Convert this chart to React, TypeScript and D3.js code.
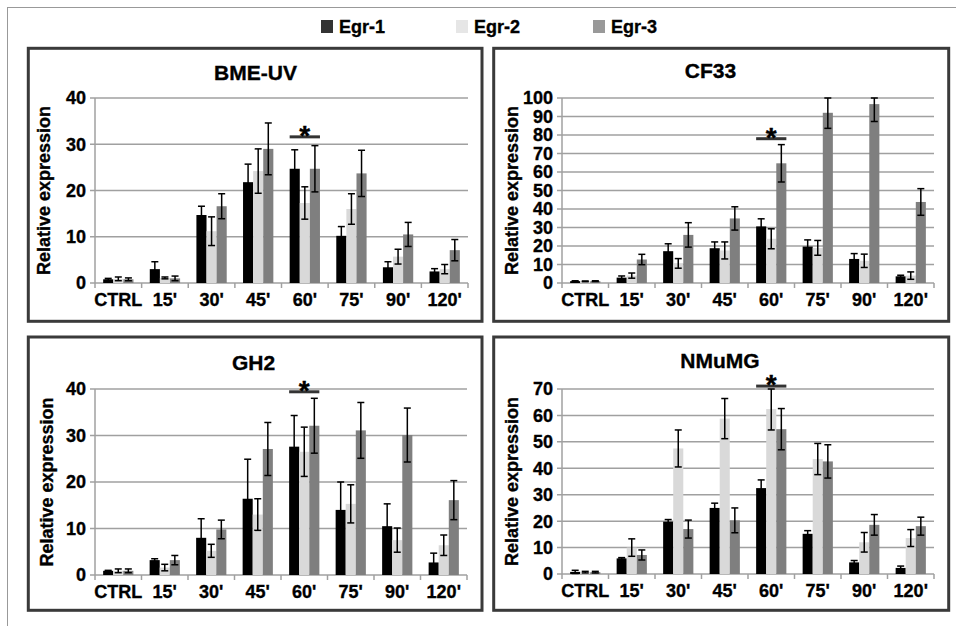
import React from "react";
import * as d3 from "d3";

const categories = ["CTRL", "15'", "30'", "45'", "60'", "75'", "90'", "120'"];
const series = ["Egr-1", "Egr-2", "Egr-3"];
const seriesColors = ["#000000", "#d9d9d9", "#7f7f7f"];
const legendColors = ["#333333", "#e6e6e6", "#999999"];

// BME-UV
const bmeEgr1 = [0.8, 3.0, 14.7, 21.8, 24.7, 10.2, 3.4, 2.5];
const bmeEgr1Err = [0.2, 1.6, 1.9, 3.9, 4.1, 2.0, 1.2, 0.6];
const bmeEgr2 = [0.9, 1.1, 11.2, 24.2, 17.3, 16.0, 5.7, 3.0];
const bmeEgr2Err = [0.4, 0.2, 3.1, 4.8, 3.5, 3.3, 1.6, 1.0];
const bmeEgr3 = [0.8, 1.0, 16.6, 29.0, 24.7, 23.7, 10.5, 7.1];
const bmeEgr3Err = [0.3, 0.5, 2.7, 5.6, 5.0, 5.0, 2.6, 2.3];

// CF33
const cfEgr1 = [1.0, 2.9, 17.2, 18.8, 30.6, 19.7, 13.0, 3.6];
const cfEgr1Err = [0.2, 0.9, 4.0, 3.4, 4.1, 3.6, 2.9, 0.6];
const cfEgr2 = [0.9, 4.0, 10.6, 17.6, 23.9, 19.0, 12.0, 4.0];
const cfEgr2Err = [0.2, 1.4, 2.6, 4.6, 5.4, 4.0, 3.6, 2.0];
const cfEgr3 = [1.0, 12.7, 26.0, 34.9, 64.7, 92.0, 96.7, 43.8];
const cfEgr3Err = [0.2, 2.8, 6.6, 6.3, 10.1, 8.4, 9.4, 7.2];

// GH2
const ghEgr1 = [0.9, 3.2, 8.0, 16.4, 27.6, 14.0, 10.5, 2.7];
const ghEgr1Err = [0.1, 0.3, 4.1, 8.5, 6.7, 6.0, 4.8, 2.0];
const ghEgr2 = [0.9, 1.6, 5.2, 13.0, 26.5, 15.3, 7.5, 6.4];
const ghEgr2Err = [0.4, 0.7, 1.4, 3.4, 5.3, 4.1, 2.6, 2.2];
const ghEgr3 = [0.9, 3.2, 9.8, 27.1, 32.1, 31.1, 30.1, 16.1];
const ghEgr3Err = [0.4, 1.0, 2.0, 5.7, 5.9, 6.0, 5.8, 4.2];

// NMuMG
const nmEgr1 = [0.8, 5.9, 19.8, 25.0, 32.5, 15.2, 4.4, 2.3];
const nmEgr1Err = [0.6, 0.3, 0.8, 1.8, 3.1, 1.2, 0.7, 0.7];
const nmEgr2 = [0.7, 10.0, 47.5, 58.8, 62.4, 43.5, 12.0, 13.6];
const nmEgr2Err = [0.3, 3.3, 7.0, 7.6, 7.9, 5.9, 3.7, 3.2];
const nmEgr3 = [0.7, 7.2, 17.0, 20.3, 54.8, 42.6, 18.6, 18.1];
const nmEgr3Err = [0.3, 1.9, 3.4, 4.7, 7.8, 6.3, 3.9, 3.4];

const panelTitles = ["BME-UV", "CF33", "GH2", "NMuMG"];
const panelYMax = [40, 100, 40, 70];
const starCategory = "60'";
const starLevels = [31.6, 78, 39.4, 71.1];
const yLabel = "Relative expression";

const panelValues = [
  [bmeEgr1, bmeEgr2, bmeEgr3],
  [cfEgr1, cfEgr2, cfEgr3],
  [ghEgr1, ghEgr2, ghEgr3],
  [nmEgr1, nmEgr2, nmEgr3],
];
const panelErrors = [
  [bmeEgr1Err, bmeEgr2Err, bmeEgr3Err],
  [cfEgr1Err, cfEgr2Err, cfEgr3Err],
  [ghEgr1Err, ghEgr2Err, ghEgr3Err],
  [nmEgr1Err, nmEgr2Err, nmEgr3Err],
];

// layout
const layouts = [
  { box: [28.3, 48.3, 453.7, 273], plot: [95, 468, 98, 283], title: [255.5, 80], ylab: 50 },
  { box: [493.7, 48.3, 455, 273], plot: [562, 934, 98, 283], title: [710.5, 78], ylab: 518 },
  { box: [28.3, 337, 453.7, 273.3], plot: [95, 467, 389, 575], title: [253.5, 370], ylab: 53 },
  { box: [493.7, 337, 455, 273.3], plot: [562, 934, 389, 574], title: [720, 368], ylab: 518 },
];

const FONT = "'Liberation Sans', Arial, sans-serif";
const textStyle = {
  fontFamily: FONT,
  fontWeight: "bold" as const,
  stroke: "#000",
  strokeWidth: 0.35,
  fill: "#000",
};

function Panel({ idx }: { idx: number }) {
  const L = layouts[idx];
  const [left, right, top, bottom] = L.plot;
  const yMax = panelYMax[idx];
  const y = d3.scaleLinear().domain([0, yMax]).range([bottom, top]);
  const x0 = d3
    .scaleBand<string>()
    .domain(categories)
    .range([left, right])
    .paddingInner(0.35)
    .paddingOuter(0.175);
  const x1 = d3.scaleBand<string>().domain(series).range([0, x0.bandwidth()]);
  const ticks = d3.range(0, yMax + 1, 10);
  const step = x0.step();
  const boundaries = d3.range(0, categories.length + 1).map((i) => left + i * step);
  const sx = x0(starCategory)!;
  const sy = y(starLevels[idx]);
  const grid = "#a0a0a0";

  return (
    <g>
      <rect
        x={L.box[0]}
        y={L.box[1]}
        width={L.box[2]}
        height={L.box[3]}
        fill="#fff"
        stroke="#3a3a3a"
        strokeWidth={3}
      />
      <text x={L.title[0]} y={L.title[1]} textAnchor="middle" style={textStyle} fontSize={21}>
        {panelTitles[idx]}
      </text>
      <text
        transform={`translate(${L.ylab},${(top + bottom) / 2}) rotate(-90)`}
        textAnchor="middle"
        style={textStyle}
        fontSize={18}
      >
        {yLabel}
      </text>
      {ticks.map((t) => (
        <g key={t}>
          <line x1={left - 5} x2={right} y1={y(t)} y2={y(t)} stroke={grid} strokeWidth={1.5} />
          <text x={left - 9} y={y(t)} dy="0.36em" textAnchor="end" style={textStyle} fontSize={18}>
            {t}
          </text>
        </g>
      ))}
      <line x1={left} x2={left} y1={top} y2={bottom} stroke={grid} strokeWidth={1.5} />
      {boundaries.map((bx, i) => (
        <line key={i} x1={bx} x2={bx} y1={bottom} y2={bottom + 5} stroke={grid} strokeWidth={1.5} />
      ))}
      {categories.map((c) => (
        <text
          key={c}
          x={x0(c)! + x0.bandwidth() / 2}
          y={bottom + 23}
          textAnchor="middle"
          style={textStyle}
          fontSize={18}
        >
          {c}
        </text>
      ))}
      {series.map((s, si) =>
        categories.map((c, ci) => {
          const v = panelValues[idx][si][ci];
          const bx = x0(c)! + x1(s)!;
          return (
            <rect
              key={s + c}
              x={bx}
              y={y(v)}
              width={x1.bandwidth()}
              height={bottom - y(v)}
              fill={seriesColors[si]}
            />
          );
        })
      )}
      {series.map((s, si) =>
        categories.map((c, ci) => {
          const v = panelValues[idx][si][ci];
          const e = panelErrors[idx][si][ci];
          const cx = x0(c)! + x1(s)! + x1.bandwidth() / 2;
          const yt = y(Math.min(v + e, yMax));
          const yb = y(Math.max(v - e, 0));
          return (
            <g key={"e" + s + c} stroke="#000" strokeWidth={1.5}>
              <line x1={cx} x2={cx} y1={yt} y2={yb} />
              <line x1={cx - 3.5} x2={cx + 3.5} y1={yt} y2={yt} />
              <line x1={cx - 3.5} x2={cx + 3.5} y1={yb} y2={yb} />
            </g>
          );
        })
      )}
      <line x1={sx} x2={sx + x0.bandwidth()} y1={sy} y2={sy} stroke="#333" strokeWidth={3} />
      <text
        x={sx + x0.bandwidth() / 2}
        y={sy + 8}
        textAnchor="middle"
        style={textStyle}
        fontSize={28}
      >
        *
      </text>
    </g>
  );
}

const legendX = [321, 456, 593];

export default function App() {
  return (
    <div style={{ position: "absolute", left: 0, top: 0 }}>
      <svg width={956} height={626} style={{ display: "block", background: "#fff" }}>
        <rect x={0} y={0} width={956} height={626} fill="#fff" />
        <line x1={7} x2={956} y1={7.5} y2={7.5} stroke="#999" strokeWidth={1} />
        <line x1={7.5} x2={7.5} y1={7} y2={626} stroke="#999" strokeWidth={1} />
        {series.map((s, i) => (
          <g key={s}>
            <rect x={legendX[i]} y={20} width={12} height={13} fill={legendColors[i]} />
            <text x={legendX[i] + 18} y={33} style={textStyle} fontSize={18}>
              {s}
            </text>
          </g>
        ))}
        {layouts.map((_, i) => (
          <Panel key={i} idx={i} />
        ))}
      </svg>
    </div>
  );
}
